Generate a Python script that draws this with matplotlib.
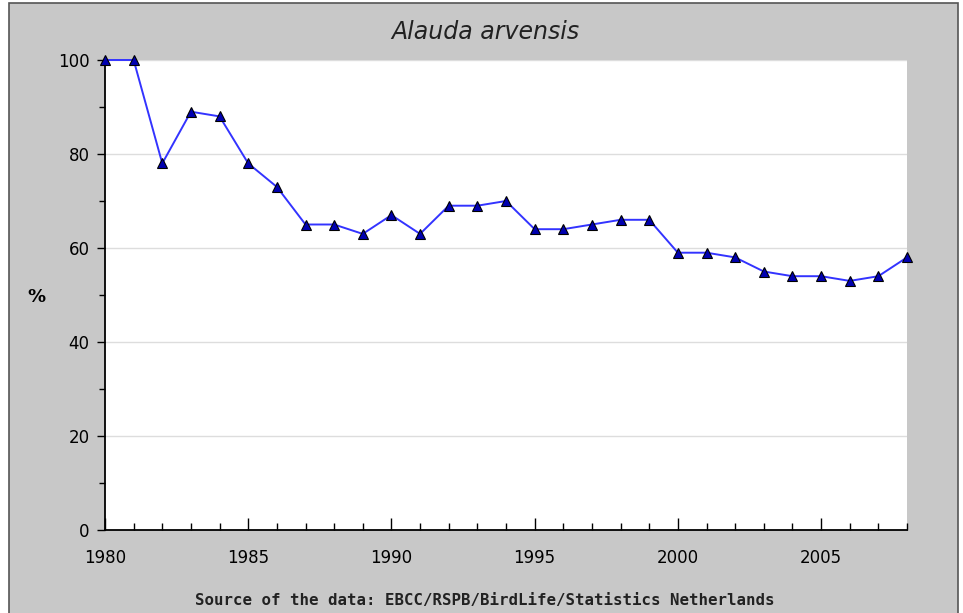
import numpy as np
import matplotlib.pyplot as plt
from matplotlib.patches import Rectangle

# data
years = np.arange(1980, 2009)
index_pct = [100, 100, 78, 89, 88, 78, 73, 65, 65, 63, 67, 63, 69, 69, 70,
             64, 64, 65, 66, 66, 59, 59, 58, 55, 54, 54, 53, 54, 58]
yticks = [0, 20, 40, 60, 80, 100]
xticks = [1980, 1985, 1990, 1995, 2000, 2005]

W, H = 963, 613
fig = plt.figure(figsize=(W / 100, H / 100), dpi=100, facecolor="white")

# grey panel with a dark frame
fig.patches.append(Rectangle((9 / W, -0.01), (958 - 9) / W, 1 - 3 / H + 0.01,
                             transform=fig.transFigure, facecolor="#c8c8c8",
                             edgecolor="#555555", linewidth=1.2, zorder=-5))

ax = fig.add_axes([105 / W, 1 - 530 / H, (907 - 105) / W, (530 - 60) / H])
ax.set_zorder(2)
ax.set_facecolor("white")

ax.plot(years, index_pct, color="#3333ff", linewidth=1.4, marker="^",
        markersize=7.5, markerfacecolor="#0000b0", markeredgecolor="black",
        markeredgewidth=0.8, clip_on=False, zorder=3)

ax.set_xlim(1980, 2008)
ax.set_ylim(0, 100)

ax.set_yticks(yticks)
ax.set_yticks(range(10, 100, 20), minor=True)
ax.set_xticks(xticks)
ax.set_xticks(years, minor=True)

ax.grid(axis="y", color="#dddddd", linewidth=1)
ax.set_axisbelow(True)

for s in ["top", "right"]:
    ax.spines[s].set_visible(False)
ax.spines["left"].set_linewidth(1.3)
ax.spines["bottom"].set_linewidth(1.3)

ax.tick_params(axis="y", which="major", direction="out", length=6, width=1,
               labelsize=12, pad=5)
ax.tick_params(axis="y", which="minor", direction="out", length=4, width=1)
ax.tick_params(axis="x", which="major", direction="in", length=9, width=1,
               labelsize=12, pad=14)
ax.tick_params(axis="x", which="minor", direction="in", length=5, width=1)

fig.text(36 / W, 1 - 297 / H, "%", fontsize=13, fontweight="bold",
         ha="center", va="center")
fig.text(485 / W, 1 - 32 / H, "Alauda arvensis", fontsize=17, style="italic",
         ha="center", va="center", color="#222222")
fig.text(485 / W, 1 - 600 / H,
         "Source of the data: EBCC/RSPB/BirdLife/Statistics Netherlands",
         fontsize=11.3, family="DejaVu Sans Mono", fontweight="bold",
         ha="center", va="center", color="#222222")

fig.savefig("out.png", dpi=100, facecolor="white")
